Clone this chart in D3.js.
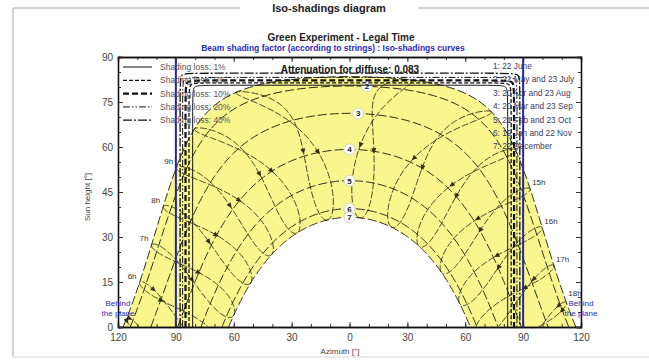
<!DOCTYPE html>
<html>
<head>
<meta charset="utf-8">
<script src="https://cdn.jsdelivr.net/npm/d3@7"></script>
<style>
  body { margin: 0; background: #fff; }
  svg { display: block; font-family: "Liberation Sans", Arial, sans-serif; }
</style>
</head>
<body>
<svg id="chart" width="649" height="363"></svg>
<script>
// site and time settings
const latitude = 30;
const timeShift = 0.3; // legal time -> solar time, hours

// sun path dates (day of year), ids and legend names
const dateIds = [1, 2, 3, 4, 5, 6, 7];
const dateDays = [173, 142, 110, 79, 52, 19, 356];
const dateNames = ['22 June', '22 May and 23 July', '20 Apr and 23 Aug', '20 Mar and 23 Sep',
  '21 Feb and 23 Oct', '19 Jan and 22 Nov', '22 December'];
const dateLabelAz = [null, 9, 4.5, 0, 0, 0, 0]; // where the circled number sits (1 is hidden)

// legal hours drawn, and which ones get a label
const legalHours = [5, 6, 7, 8, 9, 10, 11, 12, 13, 14, 15, 16, 17, 18, 19];
const hourLabelsLeft = [6, 7, 8, 9];
const hourLabelsRight = [15, 16, 17, 18];

// iso-shading curves
const isoNames = ['Shading loss: 1%', 'Shading loss: 5%', 'Shading loss: 10%', 'Shading loss: 20%', 'Shading loss: 40%'];
const isoAzLeft = [-81.3, -83.2, -85.0, -86.5, -87.8];
const isoAzRight = [82.0, 83.8, 85.3, 86.8, 88.3];
const isoElTop = [80.6, 81.4, 82.2, 83.2, 84.6];
const diffuseAttenuation = 0.083;

// axis ticks
const azMajor = [-120, -90, -60, -30, 0, 30, 60, 90, 120];
const azMinor = d3.range(-120, 121, 10);
const elMajor = [0, 15, 30, 45, 60, 75, 90];
const elMinor = d3.range(0, 91, 5);

const svg = d3.select('#chart');
const x = d3.scaleLinear().domain([-120, 120]).range([118, 581]);
const y = d3.scaleLinear().domain([0, 90]).range([327, 57]);

const rad = Math.PI / 180;
const decl = n => 23.45 * Math.sin(2 * Math.PI / 365 * (284 + n));
const eot = n => {
  const b = 2 * Math.PI / 365 * (n - 81);
  return 9.87 * Math.sin(2 * b) - 7.53 * Math.cos(b) - 1.5 * Math.sin(b);
};
function sunPos(d, hAngle) {
  const p = latitude * rad, dd = d * rad, h = hAngle * rad;
  const sel = Math.sin(p) * Math.sin(dd) + Math.cos(p) * Math.cos(dd) * Math.cos(h);
  const el = Math.asin(sel) / rad;
  const az = Math.atan2(Math.sin(h), Math.sin(p) * Math.cos(h) - Math.cos(p) * Math.tan(dd)) / rad;
  return [az, el];
}
function dayPath(n) {
  const d = decl(n);
  const h0 = Math.acos(-Math.tan(latitude * rad) * Math.tan(d * rad)) / rad;
  return d3.range(0, 241).map(i => {
    const p = sunPos(d, -h0 + 2 * h0 * i / 240);
    return [p[0], Math.max(0, p[1])];
  });
}
// sun height on a date curve at a given azimuth (bisection on hour angle)
function elAtAz(n, az) {
  const d = decl(n);
  let lo = -179, hi = 179;
  for (let k = 0; k < 40; k++) {
    const mid = (lo + hi) / 2;
    if (sunPos(d, mid)[0] < az) lo = mid; else hi = mid;
  }
  return sunPos(d, (lo + hi) / 2)[1];
}

// frame of the report page
const frame = svg.append('g').attr('stroke', '#c4c4c4').attr('stroke-width', 1.5);
frame.append('line').attr('x1', 13).attr('x2', 240).attr('y1', 8).attr('y2', 8);
frame.append('line').attr('x1', 418).attr('x2', 649).attr('y1', 8).attr('y2', 8);
frame.append('line').attr('x1', 13).attr('x2', 13).attr('y1', 8).attr('y2', 357);
frame.append('line').attr('x1', 13).attr('x2', 649).attr('y1', 357).attr('y2', 357).attr('stroke', '#e4e4e4');

svg.append('text').attr('x', 329).attr('y', 12).attr('text-anchor', 'middle')
  .attr('font-size', 11).attr('font-weight', 'bold').attr('fill', '#222').text('Iso-shadings diagram');
svg.append('text').attr('x', 341).attr('y', 41).attr('text-anchor', 'middle')
  .attr('font-size', 10).attr('font-weight', 'bold').attr('fill', '#222').text('Green Experiment - Legal Time');
svg.append('text').attr('x', 333).attr('y', 51).attr('text-anchor', 'middle')
  .attr('font-size', 8.5).attr('font-weight', 'bold').attr('fill', '#2a2ac0')
  .text('Beam shading factor (according to strings) : Iso-shadings curves');

svg.append('clipPath').attr('id', 'plot').append('rect')
  .attr('x', x(-120)).attr('y', y(90)).attr('width', x(120) - x(-120)).attr('height', y(0) - y(90));
const plot = svg.append('g').attr('clip-path', 'url(#plot)');

const line = d3.line().x(d => x(d[0])).y(d => y(d[1]));

// yellow band between the solstice paths
const summer = dayPath(dateDays[0]);
const winter = dayPath(dateDays[6]);
plot.append('path').attr('d', line(summer.concat(winter.slice().reverse())) + 'Z')
  .attr('fill', '#faf68e').attr('stroke', 'none');

// hour lines, two halves of the year (equation of time)
const hourLine = d3.line().defined(d => d[1] >= 0).x(d => x(d[0])).y(d => y(d[1]));
const halves = [d3.range(-9, 174, 2), d3.range(173, 357, 2)];
const hourG = plot.append('g');
legalHours.forEach(h => {
  halves.forEach((days, k) => {
    const pts = days.map(n => {
      const nn = (n + 365) % 365;
      const solar = h + timeShift + eot(nn) / 60;
      return sunPos(decl(nn), 15 * (solar - 12));
    });
    hourG.append('path').attr('d', hourLine(pts))
      .attr('fill', 'none').attr('stroke', '#2f2f1c').attr('stroke-width', 0.9)
      .attr('stroke-dasharray', '7,2');
    const vis = pts.filter(p => p[1] > 1);
    if (vis.length > 8) {
      const i = Math.floor(vis.length / 2);
      const a = vis[i], b = vis[Math.min(i + 1, vis.length - 1)];
      let ang = Math.atan2(y(b[1]) - y(a[1]), x(b[0]) - x(a[0])) / rad;
      if (k === 1) ang += 180;
      hourG.append('path').attr('d', 'M3,0L-2.5,-2.5L-2.5,2.5Z')
        .attr('transform', `translate(${x(a[0])},${y(a[1])}) rotate(${ang + 180})`)
        .attr('fill', '#2f2f1c');
    }
  });
});

// date curves
dateDays.forEach(n => {
  plot.append('path').attr('d', line(dayPath(n)))
    .attr('fill', 'none').attr('stroke', '#2a2a18').attr('stroke-width', 1)
    .attr('stroke-dasharray', '9,3');
});
dateDays.forEach((n, i) => {
  if (dateLabelAz[i] === null) return;
  const az = dateLabelAz[i];
  const g = plot.append('g').attr('transform', `translate(${x(az)},${y(elAtAz(n, az))})`);
  g.append('circle').attr('r', 5.5).attr('fill', '#fff').attr('stroke', '#bbb').attr('stroke-width', 0.6);
  g.append('text').attr('y', 3).attr('text-anchor', 'middle').attr('font-size', 8)
    .attr('font-weight', 'bold').attr('fill', '#222').text(dateIds[i]);
});

// iso-shading curves
const isoDash = [null, '4,2', '6,3', '7,2,1.5,2,1.5,2', '9,2,2,2'];
const isoWidth = [1, 1.3, 2.2, 1, 1.3];
const isoLine = d3.line().x(d => x(d[0])).y(d => y(d[1])).curve(d3.curveBasis);
isoNames.forEach((name, i) => {
  const L = isoAzLeft[i], R = isoAzRight[i], T = isoElTop[i];
  const pts = [[L, 0], [L, T - 5], [L, T], [L + 5, T], [R - 5, T], [R, T], [R, T - 5], [R, 0]];
  plot.append('path').attr('d', isoLine(pts)).attr('fill', 'none')
    .attr('stroke', '#111').attr('stroke-width', isoWidth[i])
    .attr('stroke-dasharray', isoDash[i]);
});

// plane limits
[-90, 90].forEach(a => {
  plot.append('line').attr('x1', x(a)).attr('x2', x(a)).attr('y1', y(0)).attr('y2', y(90))
    .attr('stroke', '#2424a8').attr('stroke-width', 2);
});

// hour labels
const hourText = (h, side) => {
  const nn = dateDays[0];
  const p = sunPos(decl(nn), 15 * (h + timeShift + eot(nn) / 60 - 12));
  svg.append('text')
    .attr('x', x(p[0]) + (side < 0 ? -3 : 2)).attr('y', y(p[1]) - (h === 18 ? 6 : 4))
    .attr('text-anchor', side < 0 ? 'end' : 'start')
    .attr('font-size', 8).attr('fill', '#333').text(h + 'h');
};
hourLabelsLeft.forEach(h => hourText(h, -1));
hourLabelsRight.forEach(h => hourText(h, 1));

// axes, ticks inward
const axG = svg.append('g').attr('font-size', 8);
const axis = (gen, tx, ty, vals, size, labels) => {
  const g = axG.append('g').attr('transform', `translate(${tx},${ty})`)
    .call(gen.tickValues(vals).tickSize(size).tickPadding(5)
      .tickFormat(labels ? (d => Math.abs(d)) : ''));
  g.select('.domain').attr('stroke', '#111').attr('stroke-width', 1.3);
  g.selectAll('.tick line').attr('stroke', '#333');
  g.selectAll('.tick text').attr('fill', '#444').attr('font-family', '"Liberation Sans", Arial, sans-serif');
  return g;
};
axis(d3.axisBottom(x), 0, y(0), azMinor, -3, false);
axis(d3.axisBottom(x), 0, y(0), azMajor, -5, true).selectAll('.tick text').attr('dy', '0.9em');
axis(d3.axisTop(x), 0, y(90), azMinor, -3, false);
axis(d3.axisTop(x), 0, y(90), azMajor, -5, false);
axis(d3.axisLeft(y), x(-120), 0, elMinor, -3, false);
axis(d3.axisLeft(y), x(-120), 0, elMajor, -5, true);
axis(d3.axisRight(y), x(120), 0, elMinor, -3, false);
axis(d3.axisRight(y), x(120), 0, elMajor, -5, false);

svg.append('text').attr('x', 340).attr('y', 354).attr('text-anchor', 'middle')
  .attr('font-size', 8).attr('fill', '#444').text('Azimuth [°]');
svg.append('text').attr('transform', 'translate(90,197) rotate(-90)').attr('text-anchor', 'middle')
  .attr('font-size', 8).attr('fill', '#444').text('Sun height [°]');

// behind the plane labels
[[x(-120), 'Behind', 306], [x(-120), 'the plane', 316], [x(120), 'Behind', 306], [x(120), 'the plane', 316]]
  .forEach(t => {
    svg.append('text').attr('x', t[0]).attr('y', t[2]).attr('text-anchor', 'middle')
      .attr('font-size', 8).attr('fill', '#2a2ab8').text(t[1]);
  });

// shading loss legend
isoNames.forEach((name, i) => {
  const ly = 67 + i * 13.3;
  svg.append('line').attr('x1', 123).attr('x2', 152).attr('y1', ly).attr('y2', ly)
    .attr('stroke', '#111').attr('stroke-width', isoWidth[i]).attr('stroke-dasharray', isoDash[i]);
  svg.append('text').attr('x', 160).attr('y', ly + 3).attr('font-size', 8.5).attr('fill', '#555').text(name);
});

// date legend
dateIds.forEach((id, i) => {
  svg.append('text').attr('x', 493).attr('y', 69 + i * 13.4).attr('font-size', 8.3)
    .attr('fill', '#3a3a5a').text(id + ': ' + dateNames[i]);
});

svg.append('text').attr('x', 350).attr('y', 73).attr('text-anchor', 'middle')
  .attr('font-size', 10).attr('font-weight', 'bold').attr('fill', '#111')
  .text('Attenuation for diffuse: ' + diffuseAttenuation.toFixed(3));
</script>
</body>
</html>
